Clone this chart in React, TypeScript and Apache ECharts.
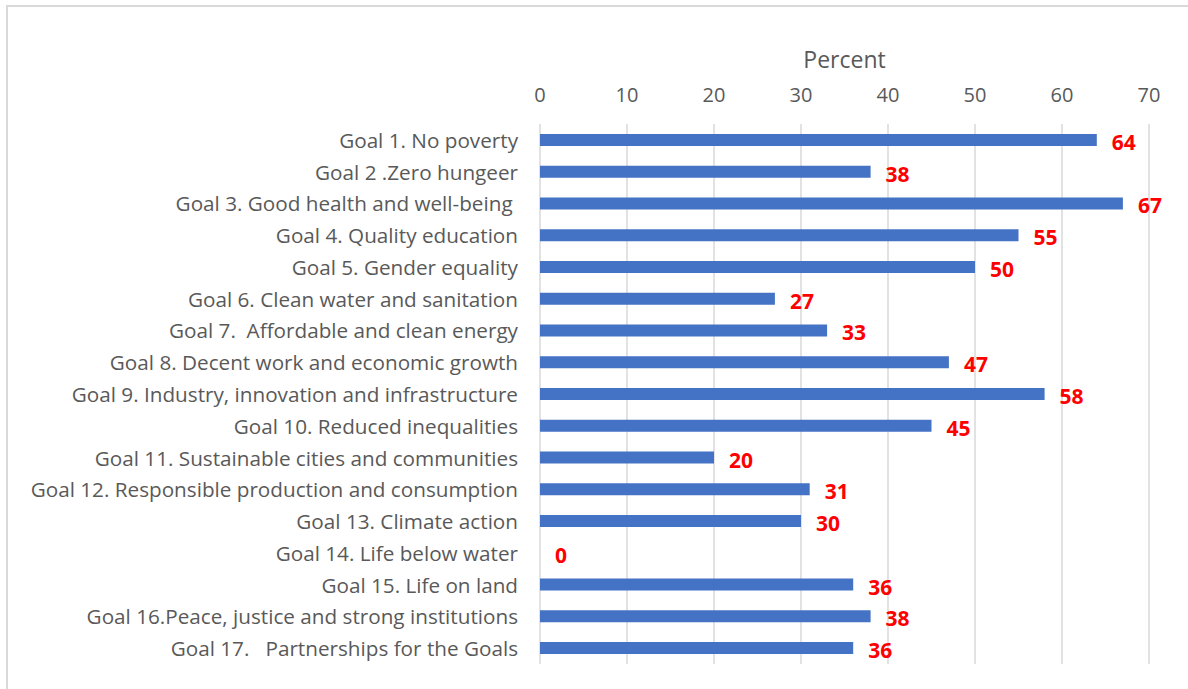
import React, { useEffect, useRef } from "react";
import * as echarts from "echarts";

const categories: string[] = [
  "Goal 1. No poverty",
  "Goal 2 .Zero hungeer",
  "Goal 3. Good health and well-being ",
  "Goal 4. Quality education",
  "Goal 5. Gender equality",
  "Goal 6. Clean water and sanitation",
  "Goal 7.  Affordable and clean energy",
  "Goal 8. Decent work and economic growth",
  "Goal 9. Industry, innovation and infrastructure",
  "Goal 10. Reduced inequalities",
  "Goal 11. Sustainable cities and communities",
  "Goal 12. Responsible production and consumption",
  "Goal 13. Climate action",
  "Goal 14. Life below water",
  "Goal 15. Life on land",
  "Goal 16.Peace, justice and strong institutions",
  "Goal 17.   Partnerships for the Goals",
];

const values: number[] = [64, 38, 67, 55, 50, 27, 33, 47, 58, 45, 20, 31, 30, 0, 36, 38, 36];

const axisTitle = "Percent";
const FONT = "'Open Sans', 'Noto Sans', sans-serif";

export default function App() {
  const ref = useRef<HTMLDivElement>(null);
  useEffect(() => {
    if (!ref.current) return;
    const chart = echarts.init(ref.current, null, { renderer: "svg" });
    chart.setOption({
      animation: false,
      backgroundColor: "#ffffff",
      textStyle: { fontFamily: FONT },
      graphic: [
        {
          type: "rect",
          shape: { x: 7, y: 6, width: 1200, height: 700 },
          style: { fill: "none", stroke: "#d9d9d9", lineWidth: 2 },
          silent: true,
        },
      ],
      grid: { left: 540, right: 39, top: 124, bottom: 25, containLabel: false },
      xAxis: {
        type: "value",
        position: "top",
        min: 0,
        max: 70,
        interval: 10,
        name: axisTitle,
        nameLocation: "middle",
        nameGap: 54,
        nameTextStyle: { color: "#595959", fontSize: 23, fontFamily: FONT },
        axisLine: { show: false },
        axisTick: { show: false },
        axisLabel: { color: "#595959", fontSize: 20, margin: 20, fontFamily: FONT },
        splitLine: { show: true, lineStyle: { color: "#d9d9d9", width: 1.5 } },
      },
      yAxis: {
        type: "category",
        data: categories,
        inverse: true,
        axisLine: { show: false },
        axisTick: { show: false },
        axisLabel: { color: "#595959", fontSize: 20.7, margin: 22, fontFamily: FONT },
      },
      series: [
        {
          type: "bar",
          data: values,
          barWidth: 12,
          itemStyle: { color: "#4472C4" },
          label: {
            show: true,
            position: "right",
            distance: 15,
            offset: [0, 2],
            color: "#FF0000",
            fontWeight: "bold",
            fontSize: 21,
            fontFamily: FONT,
          },
        },
      ],
    });
    return () => chart.dispose();
  }, []);
  return (
    <div
      ref={ref}
      style={{ position: "fixed", left: 0, top: 0, width: 1188, height: 689 }}
    />
  );
}
